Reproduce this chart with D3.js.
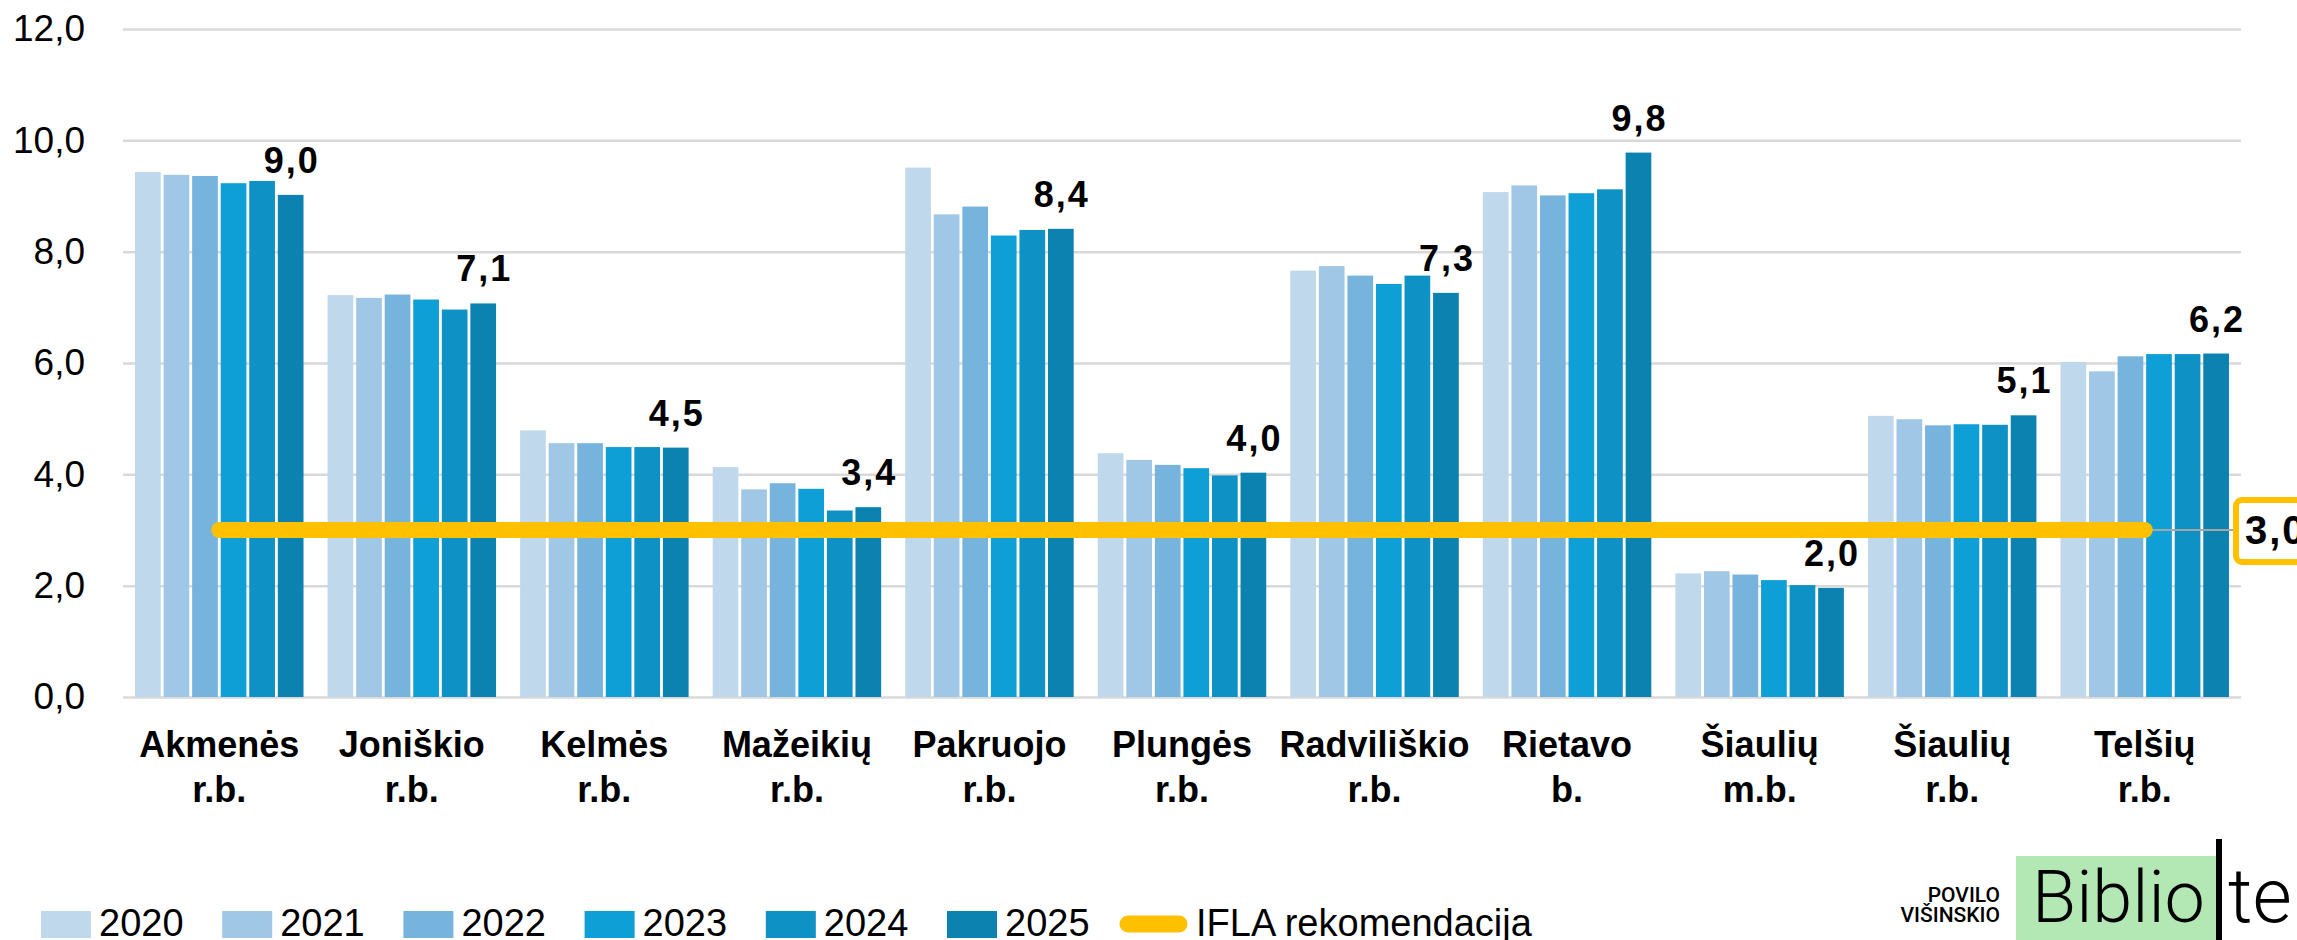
<!DOCTYPE html>
<html>
<head>
<meta charset="utf-8">
<script src="https://cdn.jsdelivr.net/npm/d3@7"></script>
<style>
  body { margin: 0; background: #fff; }
  svg { display: block; }
</style>
</head>
<body>
<div class="graph"></div>
<script>
// Bibliotekos - rodiklis pagal savivaldybes
let rajonai = ["Akmenės r.b.", "Joniškio r.b.", "Kelmės r.b.", "Mažeikių r.b.", "Pakruojo r.b.",
    "Plungės r.b.", "Radviliškio r.b.", "Rietavo b.", "Šiaulių m.b.", "Šiaulių r.b.", "Telšių r.b."];
let metai = ["2020", "2021", "2022", "2023", "2024", "2025"];

let v2020 = [9.43, 7.22, 4.79, 4.13, 9.51, 4.38, 7.66, 9.07, 2.22, 5.05, 6.02];
let v2021 = [9.38, 7.17, 4.56, 3.73, 8.67, 4.26, 7.74, 9.19, 2.26, 4.99, 5.85];
let v2022 = [9.36, 7.23, 4.56, 3.84, 8.81, 4.17, 7.57, 9.01, 2.20, 4.88, 6.12];
let v2023 = [9.23, 7.14, 4.49, 3.74, 8.29, 4.11, 7.42, 9.05, 2.10, 4.90, 6.16];
let v2024 = [9.27, 6.96, 4.49, 3.35, 8.39, 3.98, 7.57, 9.12, 2.01, 4.89, 6.16];
let v2025 = [9.02, 7.07, 4.48, 3.41, 8.41, 4.03, 7.26, 9.78, 1.96, 5.06, 6.17];

let ifla = 3.0;
let yTicks = [0, 2, 4, 6, 8, 10, 12];
let iflaLabel = "IFLA rekomendacija";

let spalvos = ["#c0d8ec", "#a1c7e7", "#76b3dd", "#0f9fd7", "#0e91c5", "#0b82b0"];
let reiksmes = [v2020, v2021, v2022, v2023, v2024, v2025];

let width = 2297;
let height = 940;
let mLeft = 123, mRight = 2241, mTop = 29, mBottom = 697;

let fmt = function (v) { return d3.format(".1f")(v).replace(".", ","); };

let svg = d3.select('.graph')
    .append('svg')
    .attr('width', width)
    .attr('height', height);

let x0 = d3.scaleBand()
    .domain(rajonai)
    .range([mLeft, mRight])
    .paddingInner(0.125)
    .paddingOuter(0.0625);

let x1 = d3.scaleBand()
    .domain(metai)
    .range([0, x0.bandwidth()])
    .paddingInner(0.1);

let y = d3.scaleLinear()
    .domain([0, 12])
    .range([mBottom, mTop]);

// Tinklelis ir Y ašis
let yAxis = svg.append('g')
    .attr('transform', 'translate(' + mLeft + ',0)')
    .call(d3.axisLeft(y)
        .tickValues(yTicks)
        .tickSize(-(mRight - mLeft))
        .tickPadding(38)
        .tickFormat(fmt));
yAxis.select('.domain').remove();
yAxis.selectAll('line')
    .attr('stroke', '#d9d9d9')
    .attr('stroke-width', 2.5);
yAxis.selectAll('text')
    .attr('fill', '#000')
    .style('font-family', 'Liberation Sans, Arial, sans-serif')
    .style('font-size', '37px');

// Stulpeliai
let grupes = svg.append('g')
    .selectAll('g')
    .data(rajonai)
    .enter()
    .append('g')
    .attr('transform', function (d) { return 'translate(' + x0(d) + ',0)'; });

grupes.selectAll('rect')
    .data(function (d, i) {
        return metai.map(function (m, j) { return { metai: m, v: reiksmes[j][i], j: j }; });
    })
    .enter()
    .append('rect')
    .attr('x', function (d) { return x1(d.metai); })
    .attr('y', function (d) { return y(d.v); })
    .attr('width', x1.bandwidth())
    .attr('height', function (d) { return y(0) - y(d.v); })
    .attr('fill', function (d) { return spalvos[d.j]; });

// Reikšmės virš 2025 m. stulpelio
grupes.append('text')
    .attr('x', function () { return x1("2025") + x1.bandwidth() / 2 + 1; })
    .attr('y', function (d, i) { return y(v2025[i]) - 22; })
    .attr('text-anchor', 'middle')
    .style('font-family', 'Liberation Sans, Arial, sans-serif')
    .style('font-weight', 'bold')
    .style('font-size', '36px')
    .style('letter-spacing', '2px')
    .text(function (d, i) { return fmt(v2025[i]); });

// Kategorijų pavadinimai
let kat = svg.append('g')
    .selectAll('text')
    .data(rajonai)
    .enter()
    .append('text')
    .attr('text-anchor', 'middle')
    .style('font-family', 'Liberation Sans, Arial, sans-serif')
    .style('font-weight', 'bold')
    .style('font-size', '36px');
kat.append('tspan')
    .attr('x', function (d) { return x0(d) + x0.bandwidth() / 2; })
    .attr('y', 757)
    .text(function (d) { return d.slice(0, d.lastIndexOf(' ')); });
kat.append('tspan')
    .attr('x', function (d) { return x0(d) + x0.bandwidth() / 2; })
    .attr('y', 802)
    .text(function (d) { return d.slice(d.lastIndexOf(' ') + 1); });

// IFLA linija
let xStart = x0(rajonai[0]) + x0.bandwidth() / 2;
let xEnd = x0(rajonai[rajonai.length - 1]) + x0.bandwidth() / 2;
svg.append('line')
    .attr('x1', xEnd)
    .attr('x2', 2236)
    .attr('y1', y(ifla))
    .attr('y2', y(ifla))
    .attr('stroke', '#a6a6a6')
    .attr('stroke-width', 2);
svg.append('line')
    .attr('x1', xStart)
    .attr('x2', xEnd)
    .attr('y1', y(ifla))
    .attr('y2', y(ifla))
    .attr('stroke', '#ffc000')
    .attr('stroke-width', 16)
    .attr('stroke-linecap', 'round');
svg.append('rect')
    .attr('x', 2236)
    .attr('y', y(ifla) - 30)
    .attr('width', 90)
    .attr('height', 62)
    .attr('rx', 6)
    .attr('fill', '#fff')
    .attr('stroke', '#ffc000')
    .attr('stroke-width', 6);
svg.append('text')
    .attr('x', 2245)
    .attr('y', y(ifla) + 14)
    .style('font-family', 'Liberation Sans, Arial, sans-serif')
    .style('font-weight', 'bold')
    .style('font-size', '40px')
    .style('letter-spacing', '2px')
    .text(fmt(ifla));

// Legenda
let leg = svg.append('g');
metai.forEach(function (m, i) {
    leg.append('rect')
        .attr('x', 41 + i * 181.2)
        .attr('y', 911)
        .attr('width', 50)
        .attr('height', 27)
        .attr('fill', spalvos[i]);
    leg.append('text')
        .attr('x', 99 + i * 181.2)
        .attr('y', 936)
        .style('font-family', 'Liberation Sans, Arial, sans-serif')
        .style('font-size', '38px')
        .text(m);
});
leg.append('line')
    .attr('x1', 1128)
    .attr('x2', 1179)
    .attr('y1', 924)
    .attr('y2', 924)
    .attr('stroke', '#ffc000')
    .attr('stroke-width', 17)
    .attr('stroke-linecap', 'round');
leg.append('text')
    .attr('x', 1196)
    .attr('y', 936)
    .style('font-family', 'Liberation Sans, Arial, sans-serif')
    .style('font-size', '38px')
    .text(iflaLabel);

// Logotipas
let logo = svg.append('g');
logo.append('rect')
    .attr('x', 2016)
    .attr('y', 856)
    .attr('width', 200)
    .attr('height', 90)
    .attr('fill', '#b3e8b5');
logo.append('rect')
    .attr('x', 2216)
    .attr('y', 839)
    .attr('width', 6)
    .attr('height', 110)
    .attr('fill', '#000');
logo.append('text')
    .attr('x', 2032)
    .attr('y', 922)
    .style('font-family', 'Roboto, sans-serif')
    .style('font-weight', 300)
    .style('font-size', '72px')
    .text('Biblio');
logo.append('text')
    .attr('x', 2228)
    .attr('y', 922)
    .style('font-family', 'Roboto, sans-serif')
    .style('font-weight', 300)
    .style('font-size', '76px')
    .text('te');
logo.append('text')
    .attr('x', 2000)
    .attr('y', 902)
    .attr('text-anchor', 'end')
    .style('font-family', 'Roboto, sans-serif')
    .style('font-weight', 500)
    .style('font-size', '21px')
    .text('POVILO');
logo.append('text')
    .attr('x', 2000)
    .attr('y', 922)
    .attr('text-anchor', 'end')
    .style('font-family', 'Roboto, sans-serif')
    .style('font-weight', 500)
    .style('font-size', '21px')
    .text('VIŠINSKIO');
</script>
</body>
</html>
